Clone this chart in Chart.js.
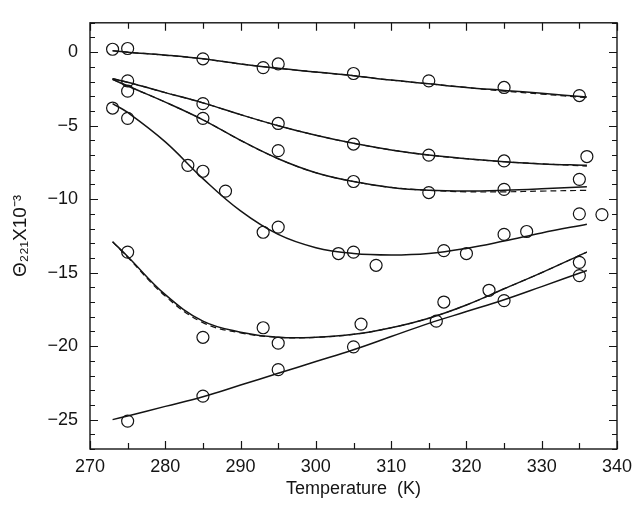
<!DOCTYPE html>
<html>
<head>
<meta charset="utf-8">
<script src="https://cdn.jsdelivr.net/npm/chart.js@4/dist/chart.umd.min.js"></script>
<style>
  html, body { margin: 0; padding: 0; background: #ffffff; }
  #wrap { width: 641px; height: 509px; }
</style>
</head>
<body>
<div id="wrap"><canvas id="c" width="641" height="509"></canvas></div>
<script>
// ---- tick labels ----
const xTickValues = [270, 280, 290, 300, 310, 320, 330, 340];
const yTickValues = [-25, -20, -15, -10, -5, 0];

// ---- fitted curves (temperature grid) ----
const fitT = [273, 275, 280, 285, 290, 295, 300, 305, 310, 315, 320, 325, 330, 336];
const fit1 = [0.1, 0.0, -0.2, -0.45, -0.8, -1.1, -1.35, -1.6, -1.9, -2.15, -2.4, -2.6, -2.8, -3.05];
const fit1Dash = [0.1, 0.0, -0.2, -0.45, -0.8, -1.1, -1.35, -1.6, -1.9, -2.15, -2.4, -2.65, -2.85, -3.1];
const fit2 = [-1.8, -2.05, -2.75, -3.45, -4.25, -5.0, -5.65, -6.2, -6.65, -7.0, -7.25, -7.45, -7.6, -7.7];
const fit2Dash = [-1.8, -2.05, -2.75, -3.45, -4.25, -5.0, -5.65, -6.2, -6.65, -7.0, -7.25, -7.45, -7.6, -7.75];
const fit3 = [-1.85, -2.3, -3.4, -4.6, -6.0, -7.25, -8.2, -8.8, -9.2, -9.4, -9.45, -9.4, -9.3, -9.15];
const fit3Dash = [-1.85, -2.3, -3.4, -4.6, -6.0, -7.25, -8.2, -8.8, -9.2, -9.4, -9.5, -9.5, -9.45, -9.4];
const fit4 = [-3.5, -4.1, -6.1, -8.6, -10.8, -12.4, -13.3, -13.7, -13.8, -13.7, -13.35, -12.85, -12.3, -11.7];
const fit5 = [-12.9, -13.9, -16.5, -18.3, -19.05, -19.4, -19.4, -19.2, -18.75, -18.1, -17.2, -16.1, -15.0, -13.6];
const fit5Dash = [-12.9, -13.95, -16.6, -18.4, -19.1, -19.4, -19.4, -19.2, -18.75, -18.1, -17.2, -16.1, -15.0, -13.6];
const fit6 = [-25.0, -24.75, -24.1, -23.45, -22.65, -21.85, -21.05, -20.25, -19.35, -18.45, -17.65, -16.85, -15.95, -14.85];

// ---- measured points ----
const obs1T = [273, 275, 285, 293, 295, 305, 315, 325, 335];
const obs1 = [0.2, 0.25, -0.45, -1.05, -0.8, -1.45, -1.95, -2.4, -2.95];
const obs2T = [275, 285, 295, 305, 315, 325, 336];
const obs2 = [-1.95, -3.5, -4.85, -6.25, -7.0, -7.4, -7.1];
const obs3T = [275, 285, 295, 305, 315, 325, 335];
const obs3 = [-2.65, -4.5, -6.7, -8.8, -9.55, -9.33, -8.65];
const obs4T = [273, 275, 283, 285, 288, 293, 295, 303, 305, 308, 317, 320, 325, 328, 335, 338];
const obs4 = [-3.8, -4.5, -7.7, -8.1, -9.45, -12.25, -11.9, -13.7, -13.6, -14.5, -13.5, -13.7, -12.4, -12.2, -11.0, -11.05];
const obs5T = [275, 285, 293, 295, 306, 317, 323, 335];
const obs5 = [-13.6, -19.4, -18.75, -19.8, -18.5, -17.0, -16.2, -14.3];
const obs6T = [275, 285, 295, 305, 316, 325, 335];
const obs6 = [-25.1, -23.4, -21.6, -20.05, -18.3, -16.9, -15.2];

const pts = (xs, ys) => xs.map((x, i) => ({ x: x, y: ys[i] }));
const INK = '#141414';

function fitSet(ys, dashed) {
  return {
    data: pts(fitT, ys),
    showLine: true,
    pointRadius: 0,
    borderColor: INK,
    borderWidth: dashed ? 1.2 : 1.5,
    borderDash: dashed ? [6, 4] : [],
    tension: 0.4,
    fill: false
  };
}
function obsSet(xs, ys) {
  return {
    data: pts(xs, ys),
    showLine: false,
    pointStyle: 'circle',
    pointRadius: 6,
    pointBorderWidth: 1.2,
    pointBorderColor: INK,
    pointBackgroundColor: 'rgba(0,0,0,0)'
  };
}

const frameTicks = {
  id: 'frameTicks',
  afterDraw(chart) {
    const { ctx, chartArea: a, scales: { x, y } } = chart;
    ctx.save();
    ctx.strokeStyle = INK;
    ctx.lineWidth = 1.4;
    ctx.strokeRect(a.left, a.top, a.right - a.left, a.bottom - a.top);
    ctx.lineWidth = 1.2;
    ctx.beginPath();
    for (let v = x.min; v <= x.max; v += 5) {
      const px = Math.round(x.getPixelForValue(v)) + 0.5;
      const len = (v % 10 === 0) ? 8 : 6;
      ctx.moveTo(px, a.bottom); ctx.lineTo(px, a.bottom - len);
      ctx.moveTo(px, a.top); ctx.lineTo(px, a.top + len);
    }
    for (let v = Math.ceil(y.min); v <= y.max; v += 1) {
      const py = Math.round(y.getPixelForValue(v)) + 0.5;
      const len = (v % 5 === 0) ? 8 : 5;
      ctx.moveTo(a.left, py); ctx.lineTo(a.left + len, py);
      ctx.moveTo(a.right, py); ctx.lineTo(a.right - len, py);
    }
    ctx.stroke();
    ctx.restore();
  }
};

Chart.defaults.font.family = '"Liberation Sans", Arial, Helvetica, sans-serif';
Chart.defaults.color = INK;

new Chart(document.getElementById('c'), {
  type: 'scatter',
  data: {
    datasets: [
      fitSet(fit1, false), fitSet(fit1Dash, true),
      fitSet(fit2, false), fitSet(fit2Dash, true),
      fitSet(fit3, false), fitSet(fit3Dash, true),
      fitSet(fit4, false),
      fitSet(fit5, false), fitSet(fit5Dash, true),
      fitSet(fit6, false),
      obsSet(obs1T, obs1), obsSet(obs2T, obs2), obsSet(obs3T, obs3),
      obsSet(obs4T, obs4), obsSet(obs5T, obs5), obsSet(obs6T, obs6)
    ]
  },
  options: {
    responsive: false,
    animation: false,
    layout: { padding: { left: 0, right: 24, top: 9, bottom: 0 } },
    plugins: { legend: { display: false }, tooltip: { enabled: false } },
    scales: {
      x: {
        type: 'linear',
        min: 270, max: 340,
        grid: { display: false, drawTicks: false },
        border: { display: false },
        afterBuildTicks: s => { s.ticks = xTickValues.map(v => ({ value: v })); },
        afterFit: s => { s.height = 60; },
        ticks: { font: { size: 18 }, color: INK, padding: 7, maxRotation: 0 },
        title: { display: true, text: 'Temperature  (K)', font: { size: 18 }, color: INK, padding: { top: 0, bottom: 9 } }
      },
      y: {
        type: 'linear',
        min: -27, max: 2,
        grid: { display: false, drawTicks: false },
        border: { display: false },
        afterBuildTicks: s => { s.ticks = yTickValues.map(v => ({ value: v })); },
        afterFit: s => { s.width = 90; },
        ticks: { font: { size: 18 }, color: INK, padding: 12, callback: v => String(v).replace('-', '\u2212') },
        title: { display: true, text: '\u0398\u2082\u2082\u2081X10\u207B\u00B3', font: { size: 19 }, color: INK, padding: { top: 9, bottom: 0 } }
      }
    }
  },
  plugins: [frameTicks]
});
</script>
</body>
</html>
